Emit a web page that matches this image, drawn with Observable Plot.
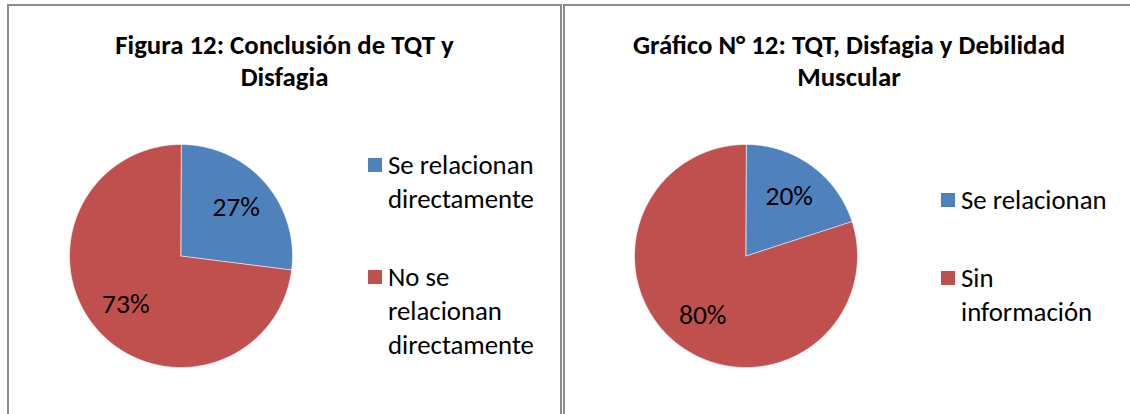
<!DOCTYPE html>
<html>
<head>
<meta charset="utf-8">
<script src="https://cdn.jsdelivr.net/npm/d3@7"></script>
<script src="https://cdn.jsdelivr.net/npm/@observablehq/plot@0.6"></script>
<style>
  html, body { margin: 0; padding: 0; background: #fff; }
  #root { position: relative; width: 1130px; height: 414px; overflow: hidden; background: #fff;
          font-family: Calibri, Carlito, Lato, sans-serif; color: #000; }
  .panel { position: absolute; box-sizing: border-box; border: 2px solid #8c8c8c; }
  .title { position: absolute; text-align: center; font-weight: bold; font-size: 26.8px; line-height: 32px; }
  .legend { position: absolute; font-size: 26.8px; line-height: 34px; }
  .legend .item { position: relative; padding-left: 20px; }
  .legend .sw { position: absolute; left: 0; top: 10px; width: 14px; height: 14px; }
  .pie { position: absolute; }
</style>
</head>
<body>
<div id="root"></div>
<script>
// ---- data ----
const leftTitleLines = ["Figura 12: Conclusión de TQT y", "Disfagia"];
const leftCategories = ["Se relacionan directamente", "No se relacionan directamente"];
const leftValues = [27, 73];

const rightTitleLines = ["Gráfico N° 12: TQT, Disfagia y Debilidad", "Muscular"];
const rightCategories = ["Se relacionan", "Sin información"];
const rightValues = [20, 80];

const sliceColors = ["#4F81BD", "#C0504D"];
const FONT = "Calibri, Carlito, Lato, sans-serif";

// ---- helpers ----
function piePlot(values, categories, size) {
  const arcs = d3.pie().sort(null).value(d => d)(values);
  const pts = [];
  arcs.forEach((a, i) => {
    const key = categories[i];
    pts.push({key, x: 0, y: 0});
    const n = Math.max(2, Math.ceil((a.endAngle - a.startAngle) / (Math.PI / 360)));
    for (let k = 0; k <= n; k++) {
      const t = a.startAngle + (a.endAngle - a.startAngle) * k / n;
      pts.push({key, x: Math.sin(t), y: Math.cos(t)});
    }
  });
  const labels = arcs.map((a, i) => {
    const m = (a.startAngle + a.endAngle) / 2;
    return {x: 0.66 * Math.sin(m), y: 0.66 * Math.cos(m), text: values[i] + "%"};
  });
  return Plot.plot({
    width: size, height: size, margin: 0,
    x: {domain: [-1, 1], axis: null},
    y: {domain: [-1, 1], axis: null},
    color: {domain: categories, range: sliceColors},
    style: {fontFamily: FONT, overflow: "visible", background: "transparent"},
    marks: [
      Plot.line(pts, {x: "x", y: "y", z: "key", fill: "key", stroke: "white", strokeWidth: 0.6, curve: "linear-closed"}),
      Plot.text(labels, {x: "x", y: "y", text: "text", fontSize: 27.5, fill: "black", fontFamily: FONT})
    ]
  });
}

function el(tag, cls, style, html) {
  const e = document.createElement(tag);
  if (cls) e.className = cls;
  if (style) Object.assign(e.style, style);
  if (html != null) e.innerHTML = html;
  return e;
}

function legend(categories, left, top, width) {
  const box = el("div", "legend", {left: left + "px", top: top + "px", width: width + "px"});
  categories.forEach((c, i) => {
    const item = el("div", "item", {marginBottom: i < categories.length - 1 ? "44px" : "0"});
    item.appendChild(el("span", "sw", {background: sliceColors[i]}));
    item.appendChild(el("span", null, null, c));
    box.appendChild(item);
  });
  return box;
}

const root = document.getElementById("root");

// panels
root.appendChild(el("div", "panel", {left: "7px", top: "4px", width: "555px", height: "440px"}));
root.appendChild(el("div", "panel", {left: "563px", top: "4px", width: "580px", height: "440px"}));

// titles
root.appendChild(el("div", "title", {left: "7px", top: "29px", width: "555px"}, leftTitleLines.join("<br>")));
root.appendChild(el("div", "title", {left: "563px", top: "29px", width: "572px"}, rightTitleLines.join("<br>")));

// pies
const R = 111.5;
const p1 = piePlot(leftValues, leftCategories, 2 * R);
p1.classList.add("pie");
Object.assign(p1.style, {left: (180.5 - R) + "px", top: (255 - R) + "px"});
root.appendChild(p1);

const p2 = piePlot(rightValues, rightCategories, 2 * R);
p2.classList.add("pie");
Object.assign(p2.style, {left: (745.5 - R) + "px", top: (255.5 - R) + "px"});
root.appendChild(p2);

// legends
root.appendChild(legend(leftCategories, 368, 148, 175));
root.appendChild(legend(rightCategories, 941, 183, 175));
</script>
</body>
</html>
